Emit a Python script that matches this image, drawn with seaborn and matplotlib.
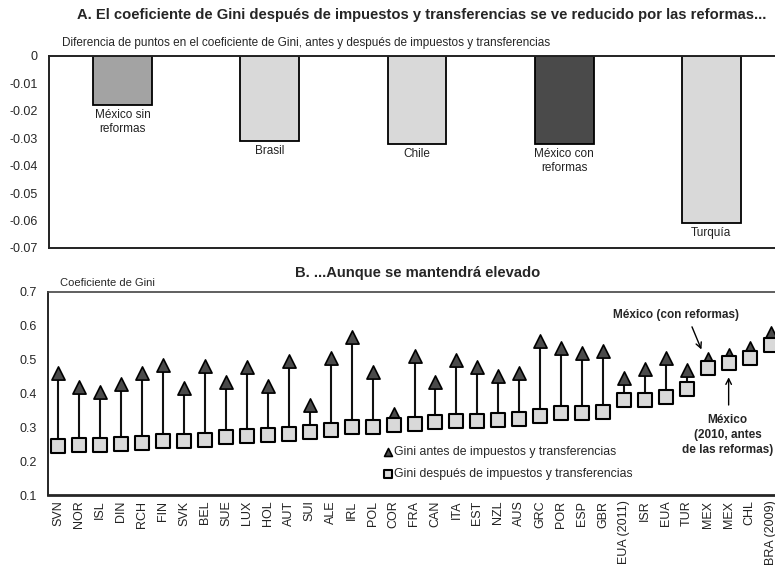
import matplotlib
matplotlib.use("Agg")
import matplotlib.pyplot as plt
import numpy as np
import pandas as pd
import seaborn as sns

# panel A
reform_cats = ["México sin\nreformas", "Brasil", "Chile", "México con\nreformas", "Turquía"]
reform_diff = [-0.018, -0.031, -0.032, -0.032, -0.061]
reform_colors = ["#a3a3a3", "#d9d9d9", "#d9d9d9", "#4a4a4a", "#d9d9d9"]

# panel B
countries = ["SVN", "NOR", "ISL", "DIN", "RCH", "FIN", "SVK", "BEL", "SUE", "LUX",
             "HOL", "AUT", "SUI", "ALE", "IRL", "POL", "COR", "FRA", "CAN", "ITA",
             "EST", "NZL", "AUS", "GRC", "POR", "ESP", "GBR", "EUA (2011)", "ISR", "EUA",
             "TUR", "MEX", "MEX", "CHL", "BRA (2009)"]
gini_before = [0.460, 0.420, 0.404, 0.428, 0.460, 0.484, 0.417, 0.481, 0.434, 0.479,
               0.423, 0.496, 0.366, 0.505, 0.568, 0.464, 0.339, 0.510, 0.435, 0.500,
               0.479, 0.451, 0.460, 0.556, 0.534, 0.520, 0.525, 0.445, 0.472, 0.505,
               0.469, 0.503, 0.514, 0.534, 0.578]
gini_after = [0.245, 0.247, 0.248, 0.250, 0.254, 0.260, 0.260, 0.262, 0.272, 0.275,
              0.277, 0.280, 0.287, 0.292, 0.300, 0.300, 0.306, 0.310, 0.315, 0.320,
              0.320, 0.321, 0.324, 0.334, 0.343, 0.343, 0.346, 0.380, 0.380, 0.390,
              0.413, 0.474, 0.490, 0.505, 0.543]

sns.set_style("white")
plt.rcParams["font.family"] = ["Liberation Sans", "DejaVu Sans"]
plt.rcParams["axes.linewidth"] = 1.4
narrow = ["Liberation Sans Narrow", "Liberation Sans"]

fig = plt.figure(figsize=(7.75, 5.67), dpi=100)
W, H = 775.0, 567.0

# ---- panel A
axA = fig.add_axes([49 / W, 1 - 248 / H, (785 - 49) / W, (248 - 56) / H])
dfA = pd.DataFrame({"cat": reform_cats, "val": reform_diff})
sns.barplot(data=dfA, x="cat", y="val", hue="cat", palette=reform_colors,
            width=0.4, edgecolor="black", linewidth=1.3, legend=False, ax=axA)
axA.set_ylim(-0.07, 0)
axA.set_xlim(-0.5, 4.5)
axA.set_yticks(np.arange(-0.07, 0.001, 0.01))
axA.set_yticklabels(["-0.07", "-0.06", "-0.05", "-0.04", "-0.03", "-0.02", "-0.01", "0"])
axA.tick_params(axis="y", direction="in", length=3, width=1, labelsize=9, pad=8)
axA.set_xticks([])
axA.set_xlabel("")
axA.set_ylabel("")
for sp in axA.spines.values():
    sp.set_color("#222222")
for i, (c, v) in enumerate(zip(reform_cats, reform_diff)):
    axA.text(i, v - 0.0015, c, ha="center", va="top", fontsize=8.5,
             family=narrow, color="#222222")

fig.text(422 / W, 1 - 15 / H,
         "A. El coeficiente de Gini después de impuestos y transferencias se ve reducido por las reformas...",
         ha="center", va="center", fontsize=10.6, fontweight="bold")
fig.text(62 / W, 1 - 43 / H,
         "Diferencia de puntos en el coeficiente de Gini, antes y después de impuestos y transferencias",
         ha="left", va="center", fontsize=8.5, family=narrow)

# ---- panel B
axB = fig.add_axes([48 / W, 1 - 495 / H, (781 - 48) / W, (495 - 292) / H])
x = np.arange(len(countries))
dfB = pd.DataFrame({"x": x, "before": gini_before, "after": gini_after})
axB.vlines(dfB["x"], dfB["after"], dfB["before"], color="#111111", linewidth=1.5, zorder=1)
sns.scatterplot(data=dfB, x="x", y="before", marker="^", s=90, color="#4a4a4a",
                edgecolor="black", linewidth=1.2, zorder=3, ax=axB,
                label="Gini antes de impuestos y transferencias")
sns.scatterplot(data=dfB, x="x", y="after", marker="s", s=88, color="#d9d9d9",
                edgecolor="black", linewidth=1.5, zorder=3, ax=axB,
                label="Gini después de impuestos y transferencias")
axB.set_xlim(-0.5, len(countries) - 0.5)
axB.set_ylim(0.1, 0.7)
axB.set_yticks(np.arange(0.1, 0.71, 0.1))
axB.set_yticklabels(["0.1", "0.2", "0.3", "0.4", "0.5", "0.6", "0.7"])
axB.tick_params(axis="y", direction="in", length=3, width=1, labelsize=9, pad=8)
axB.set_xticks(np.arange(0.5, len(countries) - 1, 1.0))
axB.set_xticklabels([])
axB.set_xticks(x, minor=True)
axB.set_xticklabels(countries, minor=True, rotation=90, fontsize=9, color="#222222")
axB.tick_params(axis="x", which="major", direction="in", length=4, width=1)
axB.tick_params(axis="x", which="minor", length=0, pad=4)
axB.set_xlabel("")
axB.set_ylabel("")
axB.spines["top"].set_linewidth(1.2)
axB.spines["top"].set_color("#444444")
axB.spines["right"].set_visible(False)
axB.spines["bottom"].set_linewidth(2)

axB.legend(loc="upper left", bbox_to_anchor=(376 / W, 1 - 440 / H),
           bbox_transform=fig.transFigure, frameon=False,
           handletextpad=0.0, labelspacing=0.85, markerscale=0.6, borderpad=0,
           handlelength=1.0, prop={"family": narrow, "size": 8.8})

fig.text(60 / W, 1 - 283 / H, "Coeficiente de Gini", ha="left", va="center", fontsize=8,
         family=narrow)
fig.text(418 / W, 1 - 273 / H, "B. ...Aunque se mantendrá elevado", ha="center", va="center",
         fontsize=10.6, fontweight="bold")

arrow = dict(arrowstyle="->", color="black", lw=1, shrinkA=0, shrinkB=0)
axB.text(29.5, 0.632, "México (con reformas)", ha="center", va="center",
         fontsize=8.5, fontweight="bold")
axB.annotate("", xy=(30.7, 0.53), xytext=(30.25, 0.597), arrowprops=arrow)
axB.text(31.95, 0.277, "México\n(2010, antes\nde las reformas)", ha="center", va="center",
         fontsize=8.5, fontweight="bold", linespacing=1.35)
axB.annotate("", xy=(32.0, 0.448), xytext=(32.0, 0.366), arrowprops=arrow)

fig.savefig("out.png", dpi=100)
